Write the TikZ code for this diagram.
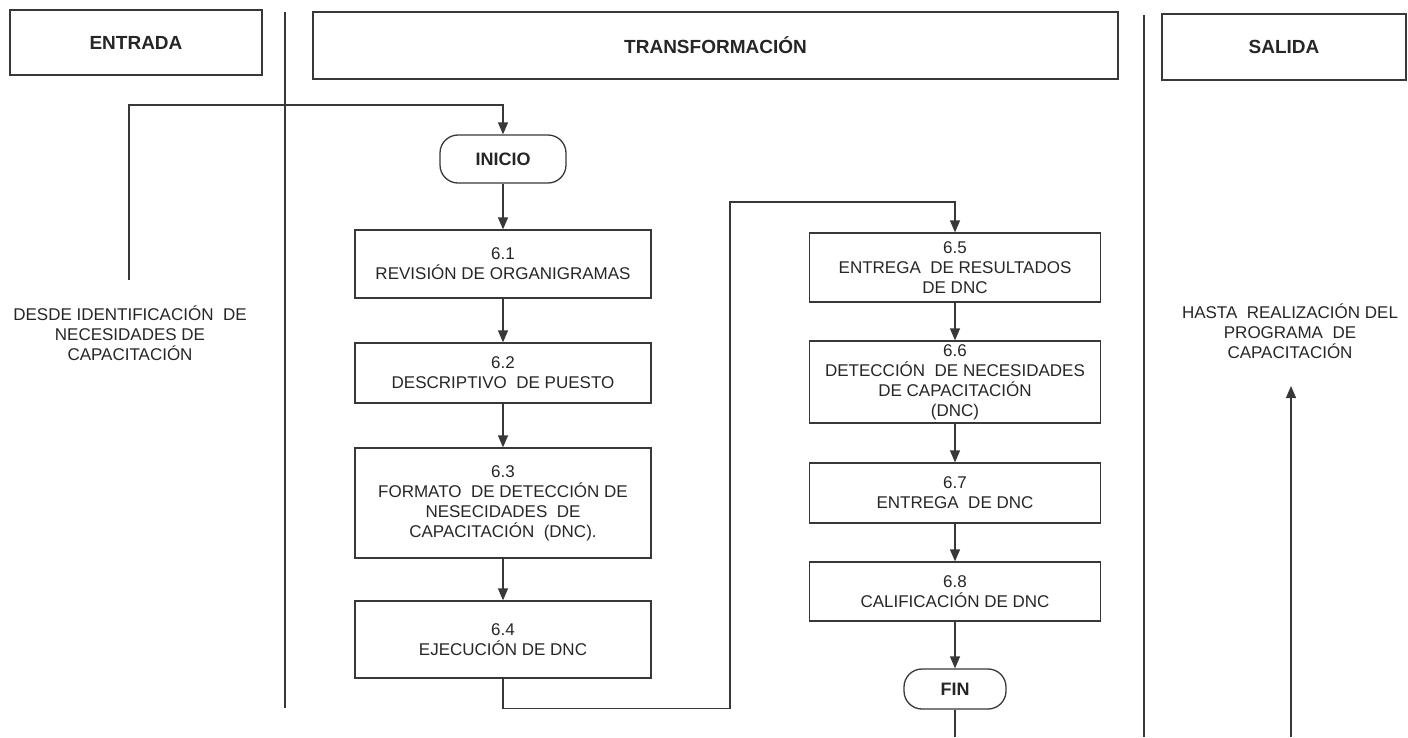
\documentclass[tikz,border=0pt]{standalone}
\usepackage{fontspec}
\setmainfont{Liberation Sans}
\usetikzlibrary{arrows.meta,positioning}

\tikzset{
  linea/.style={draw=black!78, line width=1.3pt},
  flecha/.style={linea, -{Triangle[length=12pt,width=10pt]}},
  titulo/.style={linea, font=\fontsize{19}{22}\selectfont\bfseries, text=black!85, inner sep=0pt},
  paso/.style={linea, font=\fontsize{17}{20}\selectfont, text=black!85, align=center, inner sep=0pt},
  extremo/.style={linea, rounded corners=18pt, font=\fontsize{18}{22}\selectfont\bfseries, text=black!85, inner sep=0pt},
  nota/.style={font=\fontsize{17}{20}\selectfont, text=black!85, align=center, inner sep=0pt}
}

\begin{document}
\begin{tikzpicture}[x=1pt,y=-1pt]
\useasboundingbox (0,0) rectangle (1408,737);

% column headings
\node[titulo, minimum width=252pt, minimum height=65pt] (entrada) at (136,42.5) {ENTRADA};
\node[titulo, minimum width=805pt, minimum height=67pt] (transf) at (715.5,45.5) {TRANSFORMACIÓN};
\node[titulo, minimum width=244pt, minimum height=66pt] (salida) at (1284,47) {SALIDA};

% column separators
\draw[linea] (285,12) -- (285,708);
\draw[linea] (1144,15) -- (1144,737);

% input and output notes
\node[nota] (desde) at (130,333) {DESDE IDENTIFICACIÓN \ DE\\NECESIDADES DE\\CAPACITACIÓN};
\node[nota] (hasta) at (1290,331) {HASTA \ REALIZACIÓN DEL\\PROGRAMA \ DE\\CAPACITACIÓN};

% left column of steps
\node[extremo, minimum width=126pt, minimum height=48pt] (inicio) at (503,159) {INICIO};
\node[paso, minimum width=296pt, minimum height=68pt] (p61) at (503,264) {6.1\\REVISIÓN DE ORGANIGRAMAS};
\node[paso, minimum width=296pt, minimum height=60pt] (p62) at (503,373) {6.2\\DESCRIPTIVO \ DE PUESTO};
\node[paso, minimum width=296pt, minimum height=110pt] (p63) at (503,503) {6.3\\FORMATO \ DE DETECCIÓN DE\\NESECIDADES \ DE\\CAPACITACIÓN \ (DNC).};
\node[paso, minimum width=296pt, minimum height=77pt] (p64) at (503,639.5) {6.4\\EJECUCIÓN DE DNC};

% right column of steps
\node[paso, minimum width=291pt, minimum height=69pt] (p65) at (955,267.5) {6.5\\ENTREGA \ DE RESULTADOS\\DE DNC};
\node[paso, minimum width=291pt, minimum height=82pt] (p66) at (955,382) {6.6\\DETECCIÓN \ DE NECESIDADES\\DE CAPACITACIÓN\\(DNC)};
\node[paso, minimum width=291pt, minimum height=60pt] (p67) at (955,493) {6.7\\ENTREGA \ DE DNC};
\node[paso, minimum width=291pt, minimum height=59pt] (p68) at (955,591.5) {6.8\\CALIFICACIÓN DE DNC};
\node[extremo, minimum width=102pt, minimum height=40pt] (fin) at (955,689) {FIN};

% free ends of connectors
\coordinate (desdearriba) at (129,280);
\coordinate (codo) at (730,202);
\coordinate (finbajo) at (955,737);
\coordinate (salbajo) at (1291,737);
\coordinate (saltope) at (1291,386);

% connectors
\draw[flecha] (desdearriba) -- ++(0,-175) -| (inicio.north);
\draw[flecha] (inicio) -- (p61);
\draw[flecha] (p61) -- (p62);
\draw[flecha] (p62) -- (p63);
\draw[flecha] (p63) -- (p64);
\draw[flecha] (p64.south) -- ++(0,30) -| (codo) -| (p65.north);
\draw[flecha] (p65) -- (p66);
\draw[flecha] (p66) -- (p67);
\draw[flecha] (p67) -- (p68);
\draw[flecha] (p68) -- (fin);
\draw[linea] (fin) -- (finbajo);
\draw[flecha] (salbajo) -- (saltope);

\end{tikzpicture}
\end{document}
